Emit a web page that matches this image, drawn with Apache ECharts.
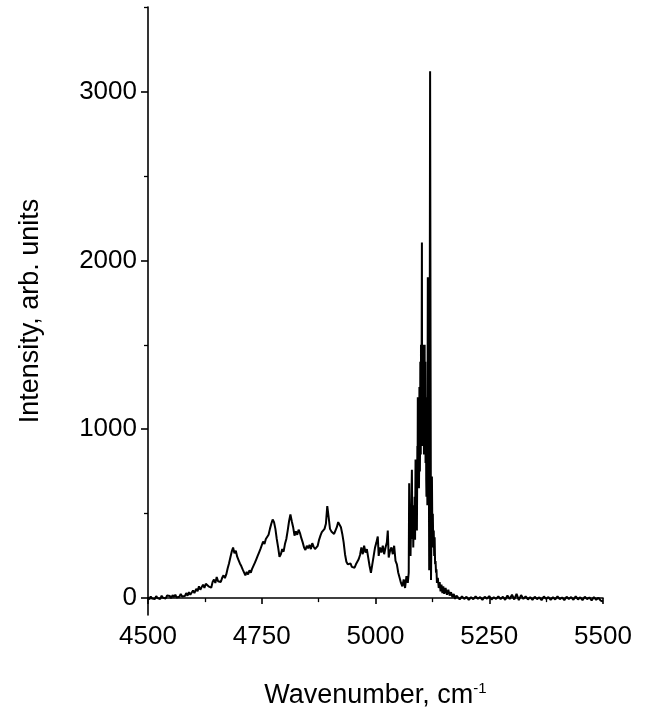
<!DOCTYPE html>
<html>
<head>
<meta charset="utf-8">
<script src="https://cdn.jsdelivr.net/npm/echarts@6/dist/echarts.min.js"></script>
<style>
html,body{margin:0;padding:0;background:#fff;}
#chart{width:648px;height:719px;}
</style>
</head>
<body>
<div id="chart"></div>
<script>
// Tick values
const xTicks = [4500, 4750, 5000, 5250, 5500];
const yMajorTicks = [0, 1000, 2000, 3000];
const yMinorTicks = [500, 1500, 2500, 3500];

// Spectrum segments: [wavenumber (cm-1), intensity (arb. units)]
const lowBaseline = [
  [4500,5],[4503,-8],[4506,10],[4509,-3],[4512,8],[4515,-6],[4518,12],[4521,0],[4524,9],[4527,-5],
  [4530,14],[4533,2],[4536,10],[4539,-2],[4542,16],[4545,5],[4548,12],[4551,0],[4554,18],[4557,6],
  [4560,20],[4563,4],[4566,15],[4569,8],[4572,24],[4575,10],[4578,20],[4581,12],[4584,30],[4587,14],
  [4590,35],[4593,20],[4596,28],[4599,45]
];
const broadBand = [
  [4602,30],[4606,55],[4609,40],[4612,70],[4615,50],[4618,65],[4621,80],[4624,60],[4627,85],[4630,95],
  [4633,70],[4636,78],[4639,62],[4642,95],[4645,110],[4648,90],[4651,125],[4654,100],[4657,110],[4660,95],
  [4663,120],[4666,135],[4669,118],[4672,140],[4675,175],[4678,205],[4681,240],[4684,275],[4687,300],[4690,265],
  [4693,280],[4696,245],[4699,225],[4702,205],[4705,190],[4708,170],[4711,160],[4714,135],[4717,155],[4720,140],
  [4723,165],[4726,150],[4729,175],[4732,185],[4735,210],[4738,230],[4741,250],[4744,270],[4747,290],[4750,300],
  [4753,335],[4756,320],[4759,350],[4762,345],[4765,375],[4768,410],[4771,440],[4774,465],[4777,450],[4780,410],
  [4783,350],[4786,300],[4789,245],[4792,260],[4795,290],[4798,275],[4801,320],[4804,350],[4807,400],[4810,455],
  [4813,495],[4816,455],[4819,420],[4822,370],[4825,395],[4828,375],[4831,405],[4834,385],[4837,355],[4840,330],
  [4843,300],[4846,285],[4849,310],[4852,295],[4855,315],[4858,290],[4861,325],[4864,305],[4867,290],[4870,280],
  [4873,310],[4876,345],[4879,370],[4882,390],[4885,380],[4888,410],[4891,440],[4894,545],[4897,480],[4900,410],
  [4903,395],[4906,405],[4909,380],[4912,390],[4915,420],[4918,450],[4921,460],[4924,420],[4927,380],[4930,330],
  [4933,260],[4936,215],[4939,200],[4942,190],[4945,205],[4948,185],[4951,195],[4954,180],[4957,200],[4960,215],
  [4963,230],[4966,255],[4969,300],[4972,260],[4975,310],[4978,270],[4981,290],[4984,240],[4987,190],[4990,150],
  [4993,200],[4996,250],[4999,300],[5002,330],[5005,365],[5007,250],[5010,300],[5013,270],[5016,310],[5019,260],
  [5022,300],[5025,330],[5027,400],[5029,240],[5032,280],[5035,300],[5038,260],[5041,310],[5044,220],[5047,200],
  [5050,150],[5053,120],[5056,90],[5059,70],[5062,110],[5065,60],[5068,130],[5071,90]
];
const sharpBand = [
  [5073,150],[5074,680],[5075,300],[5076,500],[5077,250],[5078,420],[5079,600],[5080,760],[5081,350],[5082,550],
  [5083,300],[5084,450],[5085,350],[5086,600],[5087,345],[5088,820],[5089,500],[5090,700],[5091,400],[5092,900],
  [5093,1190],[5094,700],[5095,1100],[5096,800],[5097,1190],[5098,900],[5099,1300],[5100,1500],[5101,1000],[5102,2105],
  [5103,1100],[5104,1500],[5105,900],[5106,1450],[5107,1000],[5108,1500],[5109,1190],[5110,800],[5111,1190],[5112,600],
  [5113,1000],[5114,550],[5115,1900],[5116,700],[5117,1000],[5118,165],[5119,1200],[5120,3120],[5121,1500],[5122,107],
  [5123,400],[5124,720],[5125,360],[5126,500],[5127,300],[5128,400],[5129,250],[5130,360],[5131,200],[5132,220],
  [5133,150],[5134,170],[5135,90],[5137,120],[5139,60],[5141,95],[5143,40],[5145,80],[5147,30],[5149,70],
  [5151,25],[5154,60],[5157,20],[5160,50],[5163,15],[5166,35],[5169,5],[5172,25],[5175,-5],[5178,15]
];
// Extra readings inside the dense part of the sharp band (half-step samples)
const sharpBandFill = [
  [5092.5,650],[5093.5,1000],[5094.5,1150],[5095.5,650],[5096.5,1250],[5097.5,750],[5098.5,1400],[5099.5,850],
  [5100.5,1300],[5101.5,1500],[5102.5,900],[5103.5,1450],[5104.5,1000],[5105.5,1500],[5106.5,850],[5107.5,1350],
  [5108.5,900],[5109.5,1400],[5110.5,1000],[5111.5,700],[5112.5,1150],[5113.5,800]
];
const highBaseline = [
  [5180,5],[5185,-8],[5190,10],[5195,-5],[5200,8],[5205,-10],[5210,5],[5215,-6],[5220,10],[5225,-4],
  [5230,6],[5235,-10],[5240,8],[5245,-3],[5250,12],[5255,-8],[5260,5],[5265,-5],[5270,10],[5275,-6],
  [5280,8],[5285,-10],[5290,15],[5295,-5],[5300,20],[5305,-8],[5310,25],[5315,-12],[5320,18],[5325,-5],
  [5330,10],[5335,-8],[5340,6],[5345,-10],[5350,8],[5355,-6],[5360,5],[5365,-12],[5370,10],[5375,-5],
  [5380,6],[5385,-10],[5390,5],[5395,-8],[5400,10],[5405,-6],[5410,4],[5415,-12],[5420,8],[5425,-5],
  [5430,6],[5435,-10],[5440,10],[5445,-8],[5450,5],[5455,-12],[5460,8],[5465,-6],[5470,4],[5475,-14],
  [5480,6],[5485,-10],[5490,2],[5495,-15],[5500,-20]
];

const spectrum = lowBaseline.concat(broadBand, sharpBand, sharpBandFill, highBaseline)
  .sort((a, b) => a[0] - b[0]);

const font = 'Liberation Sans, Arial, sans-serif';
const plain = v => String(v);
const chart = echarts.init(document.getElementById('chart'), null, {renderer: 'canvas'});
chart.setOption({
  animation: false,
  backgroundColor: '#fff',
  grid: {left: 148, right: 45, top: 7, bottom: 104},
  xAxis: {
    type: 'value', min: 4500, max: 5500, interval: 250,
    axisLine: {lineStyle: {color: '#000', width: 1.6}},
    axisTick: {length: 6, lineStyle: {color: '#000', width: 1.6}},
    minorTick: {show: true, splitNumber: 2, length: 4, lineStyle: {color: '#000', width: 1.3}},
    splitLine: {show: false},
    axisLabel: {color: '#000', fontSize: 26, fontFamily: font, margin: 9, formatter: plain},
    name: 'Wavenumber, cm{sup|-1}',
    nameLocation: 'middle', nameGap: 66,
    nameTextStyle: {color: '#000', fontSize: 27, fontFamily: font, lineHeight: 30,
      rich: {sup: {fontSize: 15, fontFamily: font, color: '#000', verticalAlign: 'top', lineHeight: 30, padding: [0,0,14,0]}}}
  },
  yAxis: [{
    type: 'value', min: -100, max: 3500,
    axisLine: {show: true, lineStyle: {color: '#000', width: 1.6}},
    axisTick: {show: true, length: 7, customValues: yMajorTicks, lineStyle: {color: '#000', width: 1.6}},
    axisLabel: {color: '#000', fontSize: 26, fontFamily: font, margin: 11, customValues: yMajorTicks, formatter: plain},
    splitLine: {show: false},
    name: 'Intensity, arb. units',
    nameLocation: 'middle', nameGap: 104, nameRotate: 90,
    nameTextStyle: {color: '#000', fontSize: 27, fontFamily: font}
  }, {
    type: 'value', min: -100, max: 3500, position: 'left',
    axisLine: {show: false},
    axisTick: {show: true, length: 4, customValues: yMinorTicks, lineStyle: {color: '#000', width: 1.3}},
    axisLabel: {show: false},
    splitLine: {show: false}
  }],
  series: [{
    type: 'line',
    yAxisIndex: 0,
    data: spectrum,
    showSymbol: false,
    symbol: 'none',
    lineStyle: {color: '#000', width: 2},
    clip: true
  }]
});
</script>
</body>
</html>
